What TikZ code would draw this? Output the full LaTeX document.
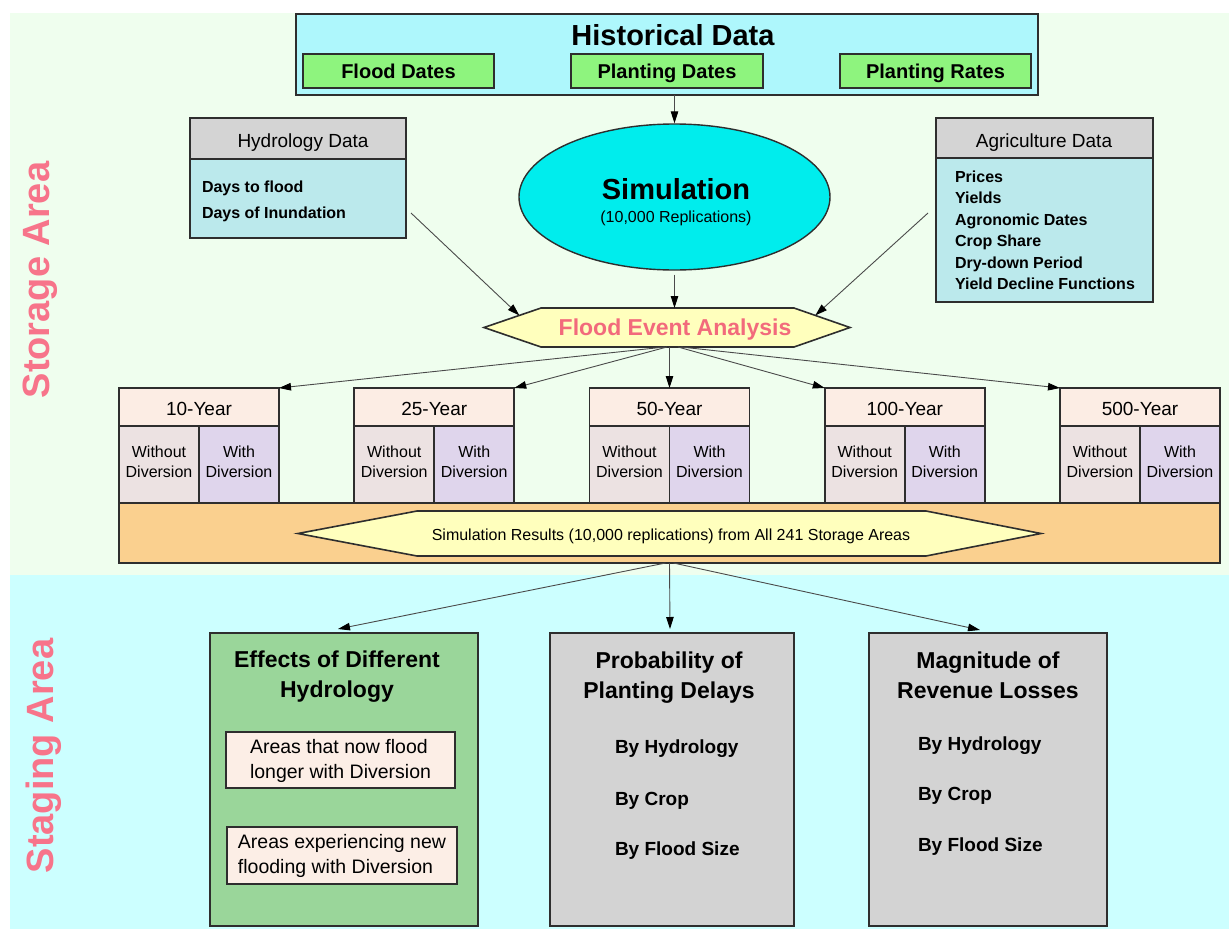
\documentclass[tikz,border=0pt]{standalone}
\usepackage{fontspec}
\setmainfont{Liberation Sans}
\usetikzlibrary{arrows.meta,shapes.geometric,calc}
\definecolor{bgstore}{HTML}{EFFEEE}
\definecolor{bgstage}{HTML}{CCFFFF}
\definecolor{histfill}{HTML}{AEF7FC}
\definecolor{greenbox}{HTML}{8EF47E}
\definecolor{headgray}{HTML}{D4D4D4}
\definecolor{bodyblue}{HTML}{BBE9EC}
\definecolor{simcyan}{HTML}{00EDED}
\definecolor{hexyellow}{HTML}{FFFFBD}
\definecolor{pinktext}{HTML}{F26A7C}
\definecolor{labelpink}{HTML}{F7748A}
\definecolor{yrhead}{HTML}{FCEDE4}
\definecolor{wocell}{HTML}{ECE2E2}
\definecolor{wicell}{HTML}{DFD5EC}
\definecolor{orangebar}{HTML}{FAD08F}
\definecolor{effgreen}{HTML}{9AD69A}
\definecolor{resgray}{HTML}{D3D3D3}
\definecolor{innerbox}{HTML}{FCEEE6}
\definecolor{boxline}{HTML}{2E2E2E}
\definecolor{arrowgray}{HTML}{4A4A4A}
\newcommand\fsz[2]{\fontsize{#1}{#2}\selectfont}
\begin{document}
\begin{tikzpicture}[x=1pt,y=-1pt,
  box/.style={draw=boxline,line width=1.6pt,inner sep=0pt,outer sep=0pt,anchor=north west},
  txt/.style={inner sep=0pt,outer sep=0pt,text=black},
  one/.style={txt,anchor=base},
  lw/.style={txt,anchor=base west},
  arr/.style={draw=arrowgray,line width=0.9pt,-{Triangle[length=12pt,width=7.5pt,color=black]}},
  hexline/.style={draw=boxline,line width=1.6pt}]
\useasboundingbox (0,0) rectangle (1229,929);
% backgrounds
\fill[bgstore] (10,13) rectangle (1229,575);
\fill[bgstage] (10,575) rectangle (1229,929);
% side labels
\node[txt,rotate=90,anchor=base,text=labelpink,font=\fsz{38}{40}\bfseries] (lstore) at (49,280) {Storage Area};
\node[txt,rotate=90,anchor=base,text=labelpink,font=\fsz{38}{40}\bfseries] (lstage) at (53,756) {Staging Area};
% historical data
\node[box,fill=histfill,minimum width=742,minimum height=81] (hist) at (296,14) {};
\node[one,font=\fsz{29}{32}\bfseries] (histt) at (673,45.5) {Historical Data};
\node[box,fill=greenbox,minimum width=191,minimum height=34] (fd) at (303,54) {};
\node[one,font=\fsz{20}{22}\bfseries] (fdt) at (398.5,78.5) {Flood Dates};
\node[box,fill=greenbox,minimum width=192,minimum height=34] (pd) at (571,54) {};
\node[one,font=\fsz{20}{22}\bfseries] (pdt) at (667,78.5) {Planting Dates};
\node[box,fill=greenbox,minimum width=191,minimum height=34] (pr) at (840,54) {};
\node[one,font=\fsz{20}{22}\bfseries] (prt) at (935.5,78.5) {Planting Rates};
% hydrology data
\node[box,fill=bodyblue,minimum width=216,minimum height=120] (hyd) at (190,118) {};
\node[box,fill=headgray,minimum width=216,minimum height=41] (hydh) at (190,118) {};
\node[one,font=\fsz{19}{22}] (hydt) at (303,147) {Hydrology Data};
\node[lw,font=\fsz{16}{18}\bfseries] (hyd1) at (202,192) {Days to flood};
\node[lw,font=\fsz{16}{18}\bfseries] (hyd2) at (202,218.5) {Days of Inundation};
% agriculture data
\node[box,fill=bodyblue,minimum width=217,minimum height=184] (agr) at (936,118) {};
\node[box,fill=headgray,minimum width=217,minimum height=40] (agrh) at (936,118) {};
\node[one,font=\fsz{19}{22}] (agrt) at (1044,147) {Agriculture Data};
\foreach \k/\t/\yy in {1/Prices/182,2/Yields/203.5,3/Agronomic Dates/225,4/Crop Share/246.5,5/Dry-down Period/268,6/Yield Decline Functions/289.5}
  \node[lw,font=\fsz{16}{18}\bfseries] (agr\k) at (955,\yy) {\t};
% simulation
\node[ellipse,draw=boxline,line width=1.4pt,fill=simcyan,minimum width=311,minimum height=146,inner sep=0pt] (sim) at (674.5,197) {};
\node[one,font=\fsz{29}{32}\bfseries] (simt) at (676,199) {Simulation};
\node[one,font=\fsz{16}{18}] (sims) at (676,222) {(10,000 Replications)};
% flood event analysis hexagon
\node[inner sep=0pt,outer sep=0pt,minimum width=366,minimum height=39] (fea) at (667,327.5) {};
\coordinate (feaTL) at ($(fea.north west)+(57,0)$);
\coordinate (feaTR) at ($(fea.north east)+(-56,0)$);
\draw[hexline,fill=hexyellow] (fea.west) -- (feaTL) -- (feaTR) -- (fea.east) -- ($(fea.south east)+(-56,0)$) -- ($(fea.south west)+(57,0)$) -- cycle;
\node[one,text=pinktext,font=\fsz{23}{25}\bfseries] (feat) at (675,335) {Flood Event Analysis};
% year boxes
\foreach \i/\lab in {0/10-Year,1/25-Year,2/50-Year,3/100-Year,4/500-Year}{
  \pgfmathsetmacro\xo{119+\i*235.25}
  \node[box,fill=wocell,minimum width=80,minimum height=77] (wo\i) at (\xo,426) {};
  \node[box,fill=wicell,minimum width=80,minimum height=77] (wi\i) at (\xo+80,426) {};
  \node[box,fill=yrhead,minimum width=160,minimum height=38] (yh\i) at (\xo,388) {};
  \node[one,font=\fsz{19}{22}] (yt\i) at (\xo+80,415) {\lab};
  \node[one,align=center,font=\fsz{16}{20}] (wot\i) at (\xo+40,477) {Without\\Diversion};
  \node[one,align=center,font=\fsz{16}{20}] (wit\i) at (\xo+120,477) {With\\Diversion};
}
% orange bar and results hexagon
\node[box,fill=orangebar,minimum width=1101,minimum height=60] (ob) at (119,503) {};
\node[inner sep=0pt,outer sep=0pt,minimum width=743,minimum height=45] (sr) at (669.5,533.5) {};
\draw[hexline,fill=hexyellow] (sr.west) -- ($(sr.north west)+(119,0)$) -- ($(sr.north east)+(-115,0)$) -- (sr.east) -- ($(sr.south east)+(-115,0)$) -- ($(sr.south west)+(119,0)$) -- cycle;
\node[one,font=\fsz{16}{18}] (srt) at (671,540) {Simulation Results (10,000 replications) from All 241 Storage Areas};
% bottom boxes
\node[box,fill=effgreen,minimum width=268,minimum height=293] (eff) at (210,633) {};
\node[one,align=center,font=\fsz{23}{30}\bfseries] (efft) at (337,697) {Effects of Different\\Hydrology};
\node[box,fill=innerbox,minimum width=229,minimum height=56] (in1) at (226,732) {};
\node[one,align=left,font=\fsz{19.5}{25}] (in1t) at (340.5,778) {Areas that now flood\\longer with Diversion};
\node[box,fill=innerbox,minimum width=230,minimum height=57] (in2) at (227,827) {};
\node[one,align=left,font=\fsz{19.5}{25}] (in2t) at (342,873) {Areas experiencing new\\flooding with Diversion};
\node[box,fill=resgray,minimum width=244,minimum height=293] (prob) at (550,633) {};
\node[one,align=center,font=\fsz{23}{30}\bfseries] (probt) at (669,698) {Probability of\\Planting Delays};
\node[lw,font=\fsz{19}{22}\bfseries] (pb1) at (615,753) {By Hydrology};
\node[lw,font=\fsz{19}{22}\bfseries] (pb2) at (615,805) {By Crop};
\node[lw,font=\fsz{19}{22}\bfseries] (pb3) at (615,855) {By Flood Size};
\node[box,fill=resgray,minimum width=238,minimum height=293] (mag) at (869,633) {};
\node[one,align=center,font=\fsz{23}{30}\bfseries] (magt) at (988,698) {Magnitude of\\Revenue Losses};
\node[lw,font=\fsz{19}{22}\bfseries] (mg1) at (918,750) {By Hydrology};
\node[lw,font=\fsz{19}{22}\bfseries] (mg2) at (918,800) {By Crop};
\node[lw,font=\fsz{19}{22}\bfseries] (mg3) at (918,851) {By Flood Size};
% connectors
\draw[arr] (sim.north |- hist.south) -- (sim.north);
\draw[arr] ($(sim.south)+(0,4)$) -- (sim.south |- fea.north);
\draw[arr] ($(hyd.south east)+(5,-25)$) -- ($(fea.west)!0.62!(feaTL)$);
\draw[arr] ($(agr.west)+(-8,3)$) -- ($(feaTR)!0.38!(fea.east)$);
\draw[arr] ($(fea.south)+(-2,0)$) -- (yh0.north east);
\draw[arr] ($(fea.south)+(0,0)$) -- (yh1.north east);
\draw[arr] (yh2.north |- fea.south) -- (yh2.north);
\draw[arr] ($(fea.south)+(11,0)$) -- (yh3.north west);
\draw[arr] ($(fea.south)+(14,0)$) -- (yh4.north west);
\draw[arr] ($(ob.south)+(-4,0)$) -- ($(eff.north)+(-6,-4)$);
\draw[arr] ($(ob.south)+(0,0)$) -- ($(prob.north)+(-2,-4)$);
\draw[arr] ($(ob.south)+(4,0)$) -- ($(mag.north)+(-8,-3)$);
\end{tikzpicture}
\end{document}
